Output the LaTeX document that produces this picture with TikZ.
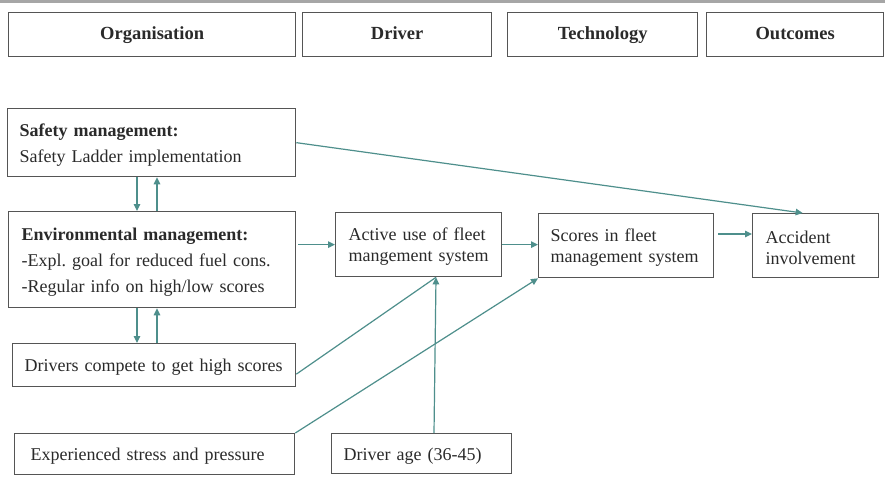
\documentclass[tikz,border=0pt]{standalone}
\usepackage{fontspec}
\setmainfont{Liberation Serif}
\usetikzlibrary{arrows.meta}
\definecolor{tealc}{HTML}{4E8F8C}
\definecolor{bord}{HTML}{555555}
\definecolor{txt}{HTML}{2A2A2A}
\newcommand{\lift}{\rule{0pt}{17pt}}
\begin{document}
\begin{tikzpicture}[x=1pt,y=1pt,
  box/.style={draw=bord, line width=1.3pt, fill=white, inner ysep=0pt, inner xsep=12pt,
    text=txt, align=left, anchor=north west, font=\fontsize{18}{26}\selectfont},
  hdr/.style={draw=bord, line width=1.3pt, fill=white, inner sep=0pt, text=txt,
    anchor=north west, minimum height=44pt, text height=14pt, text depth=4pt,
    font=\fontsize{18.5}{20}\selectfont\bfseries},
  arr/.style={draw=tealc, line width=1.2pt, -{Triangle[length=7pt,width=6.5pt]}},
  ln/.style={draw=tealc, line width=1.2pt}]
\useasboundingbox (0,0) rectangle (885,-477);
\fill[white] (0,0) rectangle (885,-477);
\fill[black!35] (0,0) rectangle (885,-3);
% header
\node[hdr, minimum width=287pt] (h1) at (8,-12) {Organisation};
\node[hdr, minimum width=189pt] (h2) at (302,-12) {Driver};
\node[hdr, minimum width=190pt] (h3) at (507,-12) {Technology};
\node[hdr, minimum width=177pt] (h4) at (706,-12) {Outcomes};
% left column
\node[box, text width=264pt, minimum height=68pt, inner xsep=12pt] (s) at (7,-108)
  {\lift\textbf{Safety management:}\\Safety Ladder implementation};
\node[box, text width=261pt, minimum height=96pt, inner xsep=13pt] (e) at (8,-211)
  {\lift\textbf{Environmental management:}\\-Expl.\ goal for reduced fuel cons.\\-Regular info on high/low scores};
\node[box, text width=259pt, minimum height=43pt] (d) at (12,-343)
  {\lift Drivers compete to get high scores};
\node[box, text width=248pt, minimum height=41pt, inner xsep=16pt] (x) at (14,-433)
  {\lift Experienced stress and pressure};
\node[box, text width=156pt, minimum height=40pt] (g) at (331,-433)
  {\lift Driver age (36-45)};
% right row
\node[box, text width=140pt, minimum height=64pt, inner xsep=13pt, font=\fontsize{18}{21.5}\selectfont] (a) at (335,-212)
  {\lift Active use of fleet\\mangement system};
\node[box, text width=151pt, minimum height=64pt, font=\fontsize{18}{21.5}\selectfont] (c) at (538,-213)
  {\lift Scores in fleet\\management system};
\node[box, text width=100pt, minimum height=64pt, inner xsep=13pt, font=\fontsize{18}{21.5}\selectfont] (o) at (752,-213)
  {\lift Accident\\involvement};
% connectors
\draw[arr] (s.east) -- ([xshift=-13pt]o.north);
\draw[arr] (137,0 |- s.south) -- (137,0 |- e.north);
\draw[arr] (157,0 |- e.north) -- (157,0 |- s.south);
\draw[arr] ([xshift=2pt]e.east |- a.west) -- (a.west);
\draw[arr] (a.east) -- (a.east -| c.west);
\draw[arr] ([xshift=4pt]c.east |- 0,-234) -- (o.west |- 0,-234);
\draw[arr] (137,0 |- e.south) -- (137,0 |- d.north);
\draw[arr] (157,0 |- d.north) -- (157,0 |- e.south);
\draw[ln] ([yshift=-9pt]d.east) -- (436,0 |- a.south);
\draw[arr] (g.north -| 434,0) -- (436,0 |- a.south);
\draw[arr] (x.north east) -- (c.south west);
\end{tikzpicture}
\end{document}
